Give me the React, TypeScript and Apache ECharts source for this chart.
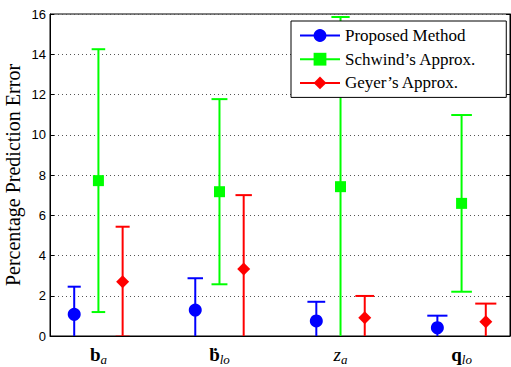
import React, { useEffect, useRef } from "react";
import * as echarts from "echarts";

const categories = ["ba", "bdotlo", "za", "qlo"];
const categoryPositions = [1, 2, 3, 4];
const seriesNames = ["Proposed Method", "Schwind’s Approx.", "Geyer’s Approx."];
const proposedMean = [1.08, 1.29, 0.75, 0.41];
const proposedErr = [1.37, 1.58, 0.95, 0.6];
const schwindMean = [7.72, 7.17, 7.42, 6.59];
const schwindErr = [6.53, 4.6, 8.43, 4.39];
const geyerMean = [2.7, 3.33, 0.91, 0.71];
const geyerErr = [2.73, 3.67, 1.08, 0.9];
const yTicks = [0, 2, 4, 6, 8, 10, 12, 14, 16];

const COLORS = ["#0000ff", "#00ff00", "#ff0000"];
const OFFSETS = [-0.2, 0, 0.2];
const SYMBOLS = ["circle", "rect", "diamond"];
const SIZES = [13, 11, 13];

const labelFmt: Record<string, string> = {
  ba: "{bb|b}{sub|a}",
  bdotlo: "{bb|ḃ}{sub|lo}",
  za: "{it|z}{sub|a}",
  qlo: "{bb|q}{sub|lo}",
};

export default function App() {
  const ref = useRef<HTMLDivElement>(null);
  useEffect(() => {
    if (!ref.current) return;
    const chart = echarts.init(ref.current, undefined, { renderer: "svg" });
    const means = [proposedMean, schwindMean, geyerMean];
    const errs = [proposedErr, schwindErr, geyerErr];
    const series: any[] = [];
    means.forEach((m, si) => {
      const color = COLORS[si];
      series.push({
        type: "custom",
        name: seriesNames[si] + "-err",
        clip: true,
        z: 2,
        silent: true,
        encode: { x: 0, y: 1 },
        data: categoryPositions.map((c, i) => [c + OFFSETS[si], m[i], errs[si][i]]),
        renderItem: (params: any, api: any) => {
          const x = api.value(0);
          const mean = api.value(1);
          const e = api.value(2);
          const top = api.coord([x, mean + e]);
          const bot = api.coord([x, mean - e]);
          const half = 5.6 + 1.18 * x;
          const style = { stroke: color, lineWidth: 2 };
          return {
            type: "group",
            children: [
              { type: "line", shape: { x1: top[0], y1: top[1], x2: bot[0], y2: bot[1] }, style },
              { type: "line", shape: { x1: top[0] - half, y1: top[1], x2: top[0] + half, y2: top[1] }, style },
              { type: "line", shape: { x1: bot[0] - half, y1: bot[1], x2: bot[0] + half, y2: bot[1] }, style },
            ],
          };
        },
      });
      series.push({
        type: "line",
        name: seriesNames[si],
        z: 3,
        symbol: SYMBOLS[si],
        symbolSize: SIZES[si],
        itemStyle: { color },
        lineStyle: { color, width: 2, opacity: 0 },
        data: categoryPositions.map((c, i) => [c + OFFSETS[si], m[i]]),
      });
    });

    chart.setOption({
      animation: false,
      backgroundColor: "#fff",
      grid: {
        left: 50,
        right: 1,
        top: 14,
        bottom: 31,
        containLabel: false,
        outerBoundsMode: "none",
        show: true,
        borderColor: "#000",
        borderWidth: 1,
      },
      legend: {
        data: seriesNames,
        orient: "vertical",
        left: 291,
        top: 21,
        itemWidth: 40,
        itemHeight: 16,
        itemGap: 6.7,
        padding: [6, 30, 6, 8],
        backgroundColor: "#fff",
        borderColor: "#000",
        borderWidth: 1,
        borderRadius: 0,
        selectedMode: false,
        lineStyle: { width: 2, opacity: 1 },
        textStyle: { fontFamily: "Liberation Serif", fontSize: 17, color: "#000" },
      },
      xAxis: {
        type: "value",
        min: 0.6,
        max: 4.4,
        splitLine: { show: false },
        axisLine: { show: true, lineStyle: { color: "#000", width: 1 } },
        axisTick: { show: false },
        axisLabel: {
          customValues: categoryPositions,
          margin: 9,
          formatter: (v: number) => labelFmt[categories[categoryPositions.indexOf(Math.round(v))]] || "",
          rich: {
            bb: { fontFamily: "Liberation Serif", fontWeight: "bold", fontSize: 19, lineHeight: 19, verticalAlign: "top", color: "#000" },
            it: { fontFamily: "Liberation Serif", fontStyle: "italic", fontSize: 19, lineHeight: 19, verticalAlign: "top", color: "#000" },
            sub: { fontFamily: "Liberation Serif", fontStyle: "italic", fontSize: 13, lineHeight: 13, padding: [8, 0, 0, 0], verticalAlign: "top", color: "#000" },
          },
        },
      },
      yAxis: [
        {
          type: "value",
          min: 0,
          max: 16,
          interval: 2,
          position: "left",
          name: "Percentage Prediction Error",
          nameLocation: "middle",
          nameGap: 27,
          nameMoveOverlap: false,
          nameTextStyle: { fontFamily: "Liberation Serif", fontSize: 20, color: "#000" },
          axisLine: { show: true, lineStyle: { color: "#000" } },
          axisTick: { show: true, inside: true, length: 4, lineStyle: { color: "#000" } },
          axisLabel: {
            margin: 4,
            color: "#000",
            fontFamily: "Liberation Sans",
            fontSize: 13,
            customValues: yTicks,
          },
          splitLine: { show: true, lineStyle: { color: "#555", type: [1, 3], width: 1 } },
        },
        {
          type: "value",
          min: 0,
          max: 16,
          interval: 2,
          position: "right",
          axisLine: { show: true, lineStyle: { color: "#000" } },
          axisTick: { show: true, inside: true, length: 4, lineStyle: { color: "#000" } },
          axisLabel: { show: false },
          splitLine: { show: false },
        },
      ],
      series,
    });
    return () => chart.dispose();
  }, []);
  return <div ref={ref} style={{ width: 511, height: 367, position: "absolute", left: 0, top: 0 }} />;
}
